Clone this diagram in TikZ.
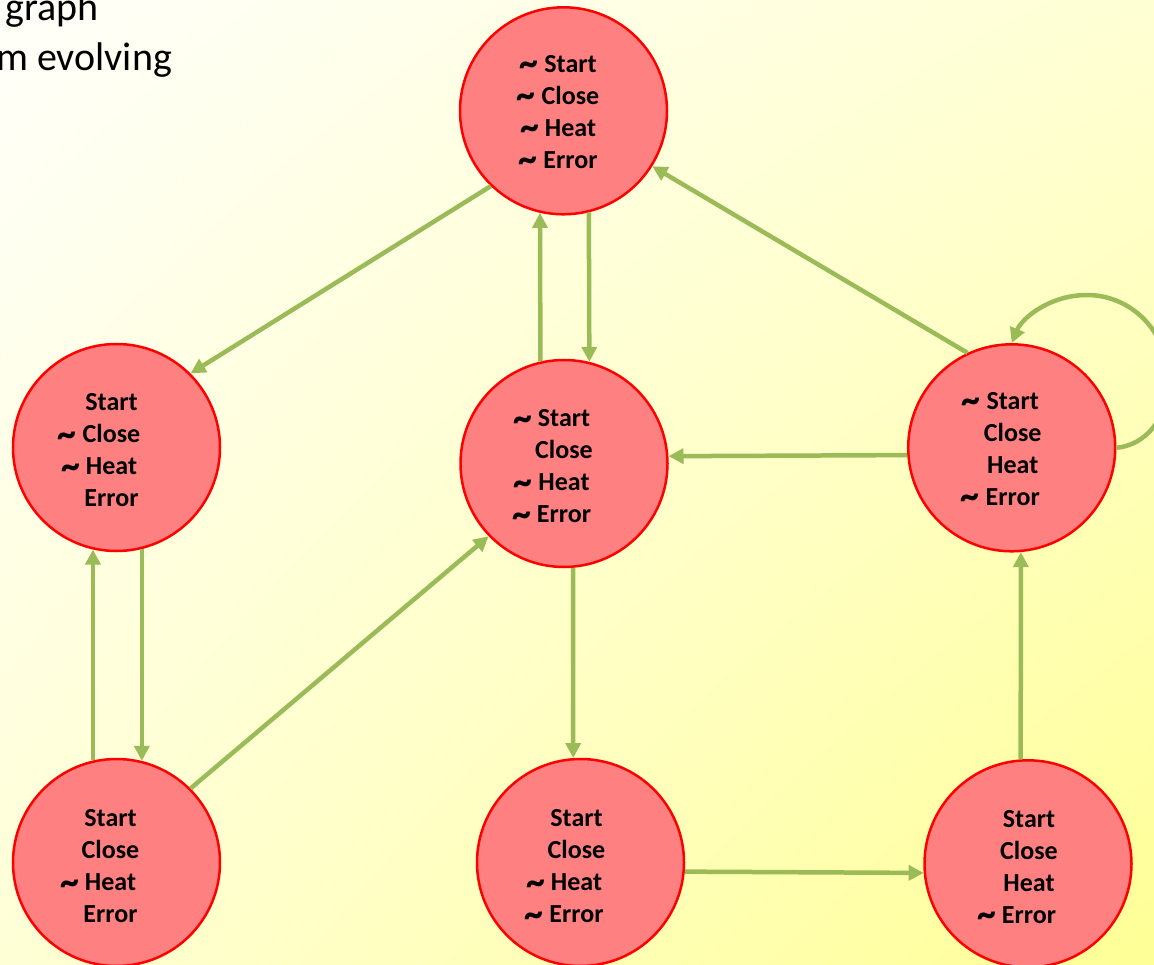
\documentclass[tikz,border=0pt]{standalone}
\usepackage{fontspec}
\usepackage{graphicx}
\setmainfont{Carlito}
\usetikzlibrary{arrows.meta,shadings}

\definecolor{statefill}{HTML}{FF8080}
\definecolor{stateline}{HTML}{FF0000}
\definecolor{edgegreen}{HTML}{9BBB59}
\definecolor{bgul}{HTML}{FFFFFA}
\definecolor{bgur}{HTML}{FFFFD4}
\definecolor{bgll}{HTML}{FFFFD6}
\definecolor{bglr}{HTML}{FFFF96}

% hanging negation sign in front of a condition name
\newcommand\negcond{\llap{\smash{\raisebox{-4.5pt}{\scalebox{1.45}[1.6]{\textasciitilde}}}\hspace{6pt}}}

\tikzset{
  state/.style={circle, draw=stateline, line width=2.5pt, fill=statefill,
                minimum size=207pt, inner sep=0pt},
  statetext/.style={align=center, inner sep=0pt, text=black,
                    font=\fontsize{26pt}{32pt}\selectfont\bfseries},
  edge/.style={draw=edgegreen, line width=4.5pt,
               -{Triangle[length=15pt,width=15pt]}},
  heading/.style={anchor=base west, inner sep=0pt,
                  font=\fontsize{40pt}{48pt}\selectfont}
}

\begin{document}
\begin{tikzpicture}[x=1pt, y=-1pt]
  % page and background
  \useasboundingbox (0,0) rectangle (1154,965);
  \shade[upper left=bgul, upper right=bgur,
         lower left=bgll, lower right=bglr]
        (0,0) rectangle (1154,965);

  % heading lines running in from the left
  \node[heading] (h1) at (5,21) {graph};
  \node[heading] (h2) at (-4,71) {m evolving};

  % states
  \node[state] (T)  at (563.5,110.8) {};
  \node[state] (L)  at (116.5,447.5) {};
  \node[state] (M)  at (564,463.5) {};
  \node[state] (R)  at (1011.7,447.8) {};
  \node[state] (BL) at (116.5,862.5) {};
  \node[state] (BM) at (580.5,862.5) {};
  \node[state] (BR) at (1028,863.8) {};

  % state labels
  \node[statetext] (Tt)  at ([xshift=7pt,yshift=-1pt]T.center)
    {\negcond Start\\ \negcond Close\\ \negcond Heat\\ \negcond Error};
  \node[statetext] (Lt)  at ([xshift=-5pt,yshift=-3pt]L.center)
    {Start\\ \negcond Close\\ \negcond Heat\\ Error};
  \node[statetext] (Mt)  at ([xshift=0pt,yshift=-3pt]M.center)
    {\negcond Start\\ Close\\ \negcond Heat\\ \negcond Error};
  \node[statetext] (Rt)  at ([xshift=1pt,yshift=-1pt]R.center)
    {\negcond Start\\ Close\\ Heat\\ \negcond Error};
  \node[statetext] (BLt) at ([xshift=-6pt,yshift=-4pt]BL.center)
    {Start\\ Close\\ \negcond Heat\\ Error};
  \node[statetext] (BMt) at ([xshift=-4pt,yshift=-4pt]BM.center)
    {Start\\ Close\\ \negcond Heat\\ \negcond Error};
  \node[statetext] (BRt) at ([xshift=1pt,yshift=-3pt]BR.center)
    {Start\\ Close\\ Heat\\ \negcond Error};

  % transitions
  \draw[edge] (T.-134) -- (L.45);
  \draw[edge] (M.103.3) -- (T.-103.3);
  \draw[edge] (T.-76.7) -- (M.76.7);
  \draw[edge] (R.115) -- (T.-32.6);
  \draw[edge] (R.-176) -- (M.4.7);
  \draw[edge] (BL.103.3) -- (L.-103.3);
  \draw[edge] (L.-76.7) -- (BL.76.7);
  \draw[edge] (BL.45.9) -- (M.-136);
  \draw[edge] (M.-85.6) -- (BM.94.7);
  \draw[edge] (BM.-5.2) -- (BR.-175.5);
  \draw[edge] (BR.94.8) -- (R.-85.6);
  % self loop on the right state
  \draw[edge] (R.0) .. controls (1145,445) and (1168,420) .. (1168,380)
                    .. controls (1168,330) and (1130,295) .. (1087,295)
                    .. controls (1050,295) and (1022,318) .. (R.90);
\end{tikzpicture}
\end{document}
